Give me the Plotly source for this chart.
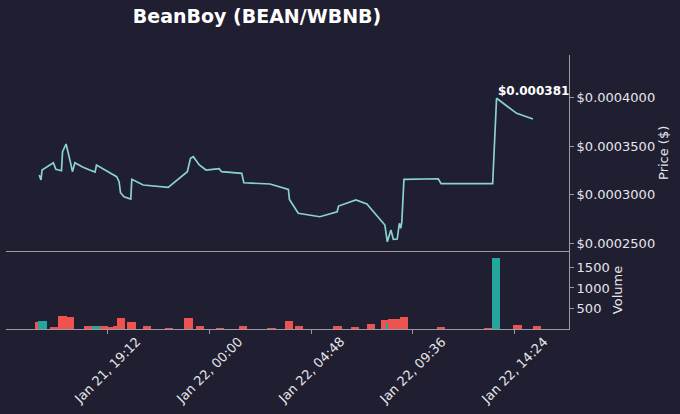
import plotly.graph_objects as go

# ---------------- data ----------------
price_times = [
    "2024-01-21 15:59", "2024-01-21 16:04", "2024-01-21 16:07", "2024-01-21 16:39",
    "2024-01-21 16:46", "2024-01-21 17:02", "2024-01-21 17:05", "2024-01-21 17:15",
    "2024-01-21 17:28", "2024-01-21 17:33", "2024-01-21 17:40", "2024-01-21 18:03",
    "2024-01-21 18:22", "2024-01-21 18:37", "2024-01-21 18:41", "2024-01-21 19:10",
    "2024-01-21 19:38", "2024-01-21 19:45", "2024-01-21 19:49", "2024-01-21 19:59",
    "2024-01-21 20:18", "2024-01-21 20:21", "2024-01-21 20:53", "2024-01-21 22:04",
    "2024-01-21 22:58", "2024-01-21 23:07", "2024-01-21 23:15", "2024-01-21 23:32",
    "2024-01-21 23:51", "2024-01-22 00:28", "2024-01-22 00:35", "2024-01-22 01:32",
    "2024-01-22 01:38", "2024-01-22 02:52", "2024-01-22 03:44", "2024-01-22 03:47",
    "2024-01-22 04:12", "2024-01-22 05:13", "2024-01-22 06:02", "2024-01-22 06:06",
    "2024-01-22 06:55", "2024-01-22 07:26", "2024-01-22 08:17", "2024-01-22 08:24",
    "2024-01-22 08:34", "2024-01-22 08:41", "2024-01-22 08:52", "2024-01-22 08:58",
    "2024-01-22 09:02", "2024-01-22 09:05", "2024-01-22 09:11", "2024-01-22 10:48",
    "2024-01-22 10:56", "2024-01-22 13:22", "2024-01-22 13:33", "2024-01-22 14:30",
    "2024-01-22 15:16",
]
price_values = [
    0.0003204, 0.0003152, 0.0003255, 0.0003330,
    0.0003262, 0.0003248, 0.0003444, 0.0003523,
    0.0003324, 0.0003238, 0.0003330, 0.0003283,
    0.0003255, 0.0003234, 0.0003307, 0.0003248,
    0.0003186, 0.0003135, 0.0003021, 0.0002980,
    0.0002956, 0.0003159, 0.0003101, 0.0003077,
    0.0003238, 0.0003376, 0.0003392, 0.0003307,
    0.0003255, 0.0003268, 0.0003238, 0.0003221,
    0.0003124, 0.0003111, 0.0003056, 0.0002953,
    0.0002809, 0.0002774, 0.0002825, 0.0002884,
    0.0002946, 0.0002905, 0.0002688, 0.0002516,
    0.0002637, 0.0002541, 0.0002544, 0.0002706,
    0.0002654, 0.0002722, 0.0003159, 0.0003165,
    0.0003114, 0.0003114, 0.0003994, 0.0003839,
    0.0003781,
]

volume_times = [
    "2024-01-21 15:59", "2024-01-21 16:08", "2024-01-21 16:41", "2024-01-21 17:05",
    "2024-01-21 17:27", "2024-01-21 18:18", "2024-01-21 18:39", "2024-01-21 19:03",
    "2024-01-21 19:25", "2024-01-21 19:39", "2024-01-21 19:50", "2024-01-21 20:20",
    "2024-01-21 21:04", "2024-01-21 22:06", "2024-01-21 23:01", "2024-01-21 23:33",
    "2024-01-22 00:30", "2024-01-22 01:36", "2024-01-22 02:56", "2024-01-22 03:46",
    "2024-01-22 04:14", "2024-01-22 06:03", "2024-01-22 06:53", "2024-01-22 07:38",
    "2024-01-22 08:19", "2024-01-22 08:32", "2024-01-22 08:37", "2024-01-22 08:53",
    "2024-01-22 09:11", "2024-01-22 10:56", "2024-01-22 13:09", "2024-01-22 13:32",
    "2024-01-22 14:32", "2024-01-22 15:28",
]
volume_values = [
    163, 187, 57, 309,
    285, 73, 65, 73,
    49, 73, 268, 163,
    73, 33, 268, 65,
    16, 73, 16, 187,
    73, 73, 41, 114,
    228, 155, 244, 244,
    293, 41, 16, 1732,
    89, 65,
]
volume_side = [
    "sell", "buy", "sell", "sell",
    "sell", "sell", "buy", "sell",
    "sell", "sell", "sell", "sell",
    "sell", "sell", "sell", "sell",
    "sell", "sell", "sell", "sell",
    "sell", "sell", "sell", "sell",
    "sell", "buy", "sell", "sell",
    "sell", "sell", "sell", "buy",
    "sell", "sell",
]

x_tick_times = ["2024-01-21 19:12", "2024-01-22 00:00", "2024-01-22 04:48",
                "2024-01-22 09:36", "2024-01-22 14:24"]
x_tick_labels = ["Jan 21, 19:12", "Jan 22, 00:00", "Jan 22, 04:48",
                 "Jan 22, 09:36", "Jan 22, 14:24"]
price_ticks = [0.00025, 0.0003, 0.00035, 0.0004]
price_tick_labels = ["$0.0002500", "$0.0003000", "$0.0003500", "$0.0004000"]
volume_ticks = [500, 1000, 1500]
volume_tick_labels = ["500", "1000", "1500"]

title_text = "BeanBoy (BEAN/WBNB)"
last_price_label = "$0.000381"

# ---------------- style ----------------
BG = "#201e31"
SPINE = "#9c9aa8"
TXT = "#e6e6ea"
LINE = "#8ad3cc"
BUY = "#26a69a"
SELL = "#ef5350"
FONT = "DejaVu Sans"

x_range = ["2024-01-21 14:25", "2024-01-22 16:58"]

bar_colors = [BUY if s == "buy" else SELL for s in volume_side]

fig = go.Figure()
fig.add_trace(go.Scatter(
    x=price_times, y=price_values, mode="lines",
    line=dict(color=LINE, width=1.7), xaxis="x", yaxis="y", showlegend=False,
))
fig.add_trace(go.Bar(
    x=volume_times, y=volume_values, marker=dict(color=bar_colors, line=dict(width=0)),
    width=1410000, xaxis="x2", yaxis="y2", showlegend=False,
))

# peak annotation
peak_i = max(range(len(price_values)), key=lambda i: price_values[i])
annotations = [
    dict(x=price_times[peak_i], y=price_values[peak_i], xref="x", yref="y",
         text="<b>" + last_price_label + "</b>", showarrow=False,
         xanchor="left", yanchor="bottom", yshift=-2, xshift=-1,
         font=dict(family=FONT, size=12, color="#ffffff")),
]
for t, lab in zip(x_tick_times, x_tick_labels):
    annotations.append(dict(
        x=t, y=0, xref="x2", yref="paper", text=lab, showarrow=False,
        textangle=-45, xanchor="center", yanchor="top", yshift=-3,
        font=dict(family=FONT, size=13, color=TXT),
    ))

fig.update_layout(
    width=680, height=414,
    paper_bgcolor=BG, plot_bgcolor=BG,
    margin=dict(l=6, r=111, t=55, b=85),
    font=dict(family=FONT, size=13, color=TXT),
    title=dict(text="<b>" + title_text + "</b>", x=257 / 680, xref="container",
               xanchor="center", y=1 - 16 / 414, yref="container", yanchor="middle",
               font=dict(family=FONT, size=19, color="#ffffff")),
    bargap=0, barmode="overlay",
    annotations=annotations,
    xaxis=dict(domain=[0, 1], anchor="y", range=x_range, type="date",
               showgrid=False, zeroline=False, showticklabels=False, ticks="",
               showline=True, linecolor=SPINE, linewidth=1, matches="x2"),
    yaxis=dict(domain=[0.2858, 1], anchor="x", side="right",
               range=[0.0002424, 0.000444], tickvals=price_ticks,
               ticktext=price_tick_labels,
               showgrid=False, zeroline=False, showline=True, linecolor=SPINE,
               linewidth=1, ticks="outside", ticklen=4, tickcolor=SPINE,
               tickfont=dict(family=FONT, size=13, color=TXT),
               title=dict(text="Price ($)", standoff=4,
                          font=dict(family=FONT, size=13, color=TXT))),
    xaxis2=dict(domain=[0, 1], anchor="y2", range=x_range, type="date",
                showgrid=False, zeroline=False, showticklabels=False,
                tickvals=x_tick_times, ticks="outside", ticklen=4, tickcolor=SPINE,
                showline=True, linecolor=SPINE, linewidth=1),
    yaxis2=dict(domain=[0, 0.2847], anchor="x2", side="right",
                range=[0, 1902], tickvals=volume_ticks, ticktext=volume_tick_labels,
                showgrid=False, zeroline=False, showline=True, linecolor=SPINE,
                linewidth=1, ticks="outside", ticklen=4, tickcolor=SPINE,
                tickfont=dict(family=FONT, size=13, color=TXT),
                title=dict(text="Volume", standoff=4,
                           font=dict(family=FONT, size=13, color=TXT))),
)

fig.write_html(
    "out.html",
    config={"displayModeBar": False},
    post_script="document.body.style.margin='0';document.body.style.background='" + BG + "';",
)
